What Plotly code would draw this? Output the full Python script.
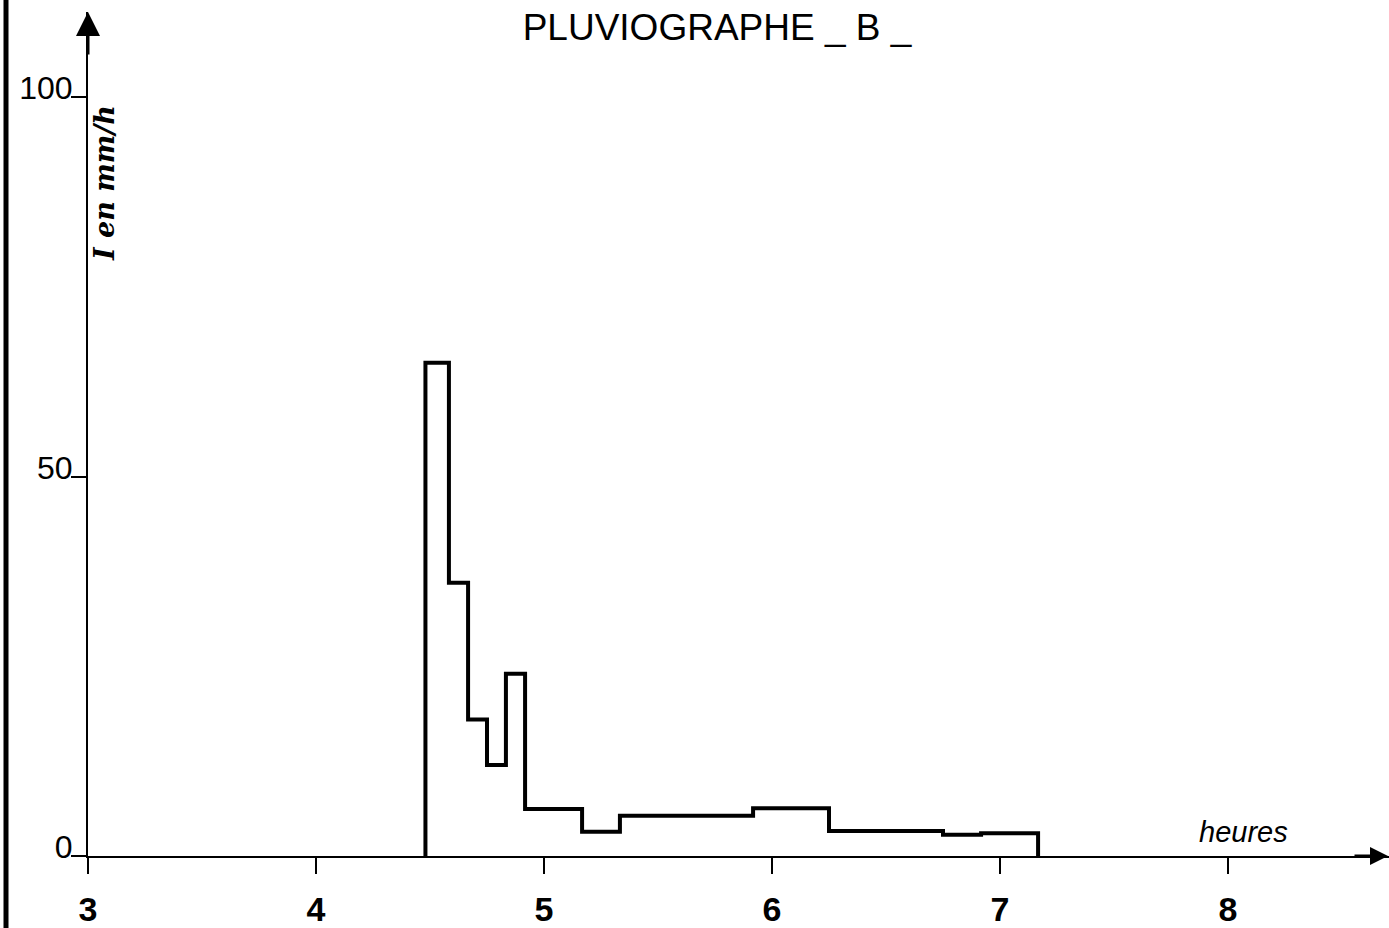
import plotly.graph_objects as go

# Rain intensity record, pluviograph B: interval boundaries (decimal hours)
# and the mean intensity over each interval (mm/h).
bounds_h = [4.48, 4.583, 4.667, 4.75, 4.833, 4.917, 5.167, 5.333, 5.917, 6.25, 6.75, 6.917, 7.167]
intensity_mmh = [65, 36, 18, 12, 24, 6.2, 3.2, 5.3, 6.3, 3.3, 2.8, 3.0]

x_ticks = [3, 4, 5, 6, 7, 8]
y_ticks = [0, 50, 100]
y_tick_text = [str(v) for v in y_ticks]

title_text = "PLUVIOGRAPHE _ B _"
y_title = "I en mm/h"
x_title = "heures"

# step outline: rise from zero at the first boundary, fall back at the last
step_x = [bounds_h[0]] + bounds_h
step_y = [0] + intensity_mmh + [0]

W, H = 1389, 928
ML, MR, MT, MB = 88, 0, 12, 72
plot_w = W - ML - MR
plot_h = H - MT - MB
px_per_h = 228.0
px_per_mm = 7.59
x_range = [3, 3 + plot_w / px_per_h]
y_range = [0, plot_h / px_per_mm]


def paper_x(px):
    return (px - ML) / plot_w


def paper_y(py):
    return (H - MB - py) / plot_h


fig = go.Figure()
fig.add_trace(go.Scatter(
    x=step_x, y=step_y, mode="lines", line_shape="hv",
    line=dict(color="black", width=4), hoverinfo="skip", showlegend=False,
))

fig.update_layout(
    width=W, height=H,
    margin=dict(l=ML, r=MR, t=MT, b=MB, autoexpand=False),
    paper_bgcolor="white", plot_bgcolor="white",
    showlegend=False,
    title=dict(
        text=title_text, x=717 / W, xref="container", xanchor="center",
        y=1 - 27 / H, yref="container", yanchor="middle",
        font=dict(family="Liberation Sans", size=37, color="black"),
    ),
    xaxis=dict(
        range=x_range, tickvals=x_ticks, ticktext=[str(v) for v in x_ticks],
        showgrid=False, zeroline=False, showline=True, linecolor="black", linewidth=2,
        ticks="outside", ticklen=16, tickwidth=2, tickcolor="black",
        ticklabelstandoff=6, automargin=False,
        tickfont=dict(family="Liberation Sans", size=34, color="black", weight="bold"),
        fixedrange=True,
    ),
    yaxis=dict(
        range=y_range, tickvals=y_ticks, ticktext=y_tick_text,
        showgrid=False, zeroline=False, showline=True, linecolor="black", linewidth=2,
        ticks="outside", ticklen=15, tickwidth=2, tickcolor="black",
        ticklabelstandoff=-8, ticklabelshift=-9, automargin=False,
        tickfont=dict(family="Liberation Sans", size=32, color="black"),
        fixedrange=True,
    ),
)

# arrowheads at the ends of both axes
fig.add_annotation(x=3, y=1, xref="x", yref="paper", ax=0, ay=44,
                   text="", showarrow=True, arrowhead=2, arrowsize=1.6, arrowwidth=3,
                   arrowcolor="black", standoff=0)
fig.add_annotation(x=1, y=0, xref="paper", yref="y", ax=-36, ay=0,
                   text="", showarrow=True, arrowhead=2, arrowsize=1.2, arrowwidth=3,
                   arrowcolor="black", standoff=0)

# axis titles written along the axes
fig.add_annotation(x=paper_x(105), y=paper_y(183), xref="paper", yref="paper", text=y_title,
                   showarrow=False, textangle=-90, xanchor="center", yanchor="middle",
                   font=dict(family="DejaVu Serif", size=27, color="black",
                             style="italic", weight="bold"))
fig.add_annotation(x=8.07, y=3.2, xref="x", yref="y", text=x_title,
                   showarrow=False, xanchor="center", yanchor="middle",
                   font=dict(family="Liberation Sans", size=29, color="black", style="italic"))

# sheet edge on the left
fig.add_shape(type="line", xref="paper", yref="paper",
              x0=paper_x(6), x1=paper_x(6), y0=paper_y(H), y1=paper_y(0),
              line=dict(color="black", width=5))

fig.write_html("out.html")
